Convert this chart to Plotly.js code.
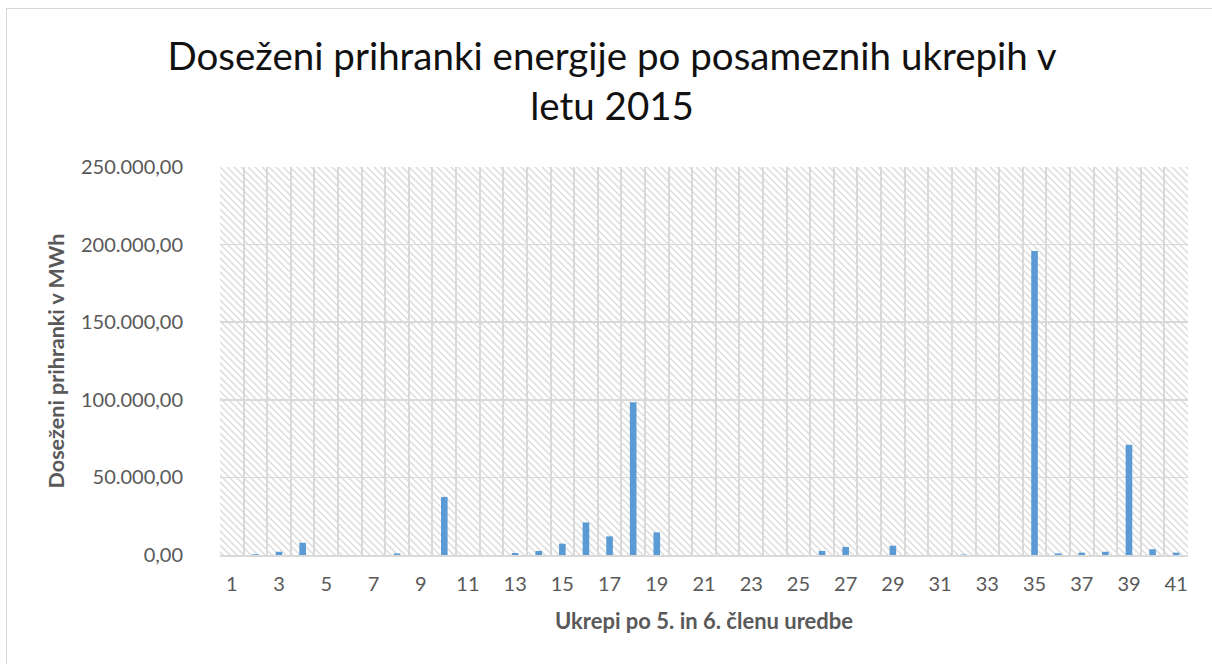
<!DOCTYPE html>
<html><head><meta charset="utf-8">
<script src="https://cdn.plot.ly/plotly-3.0.1.min.js"></script>
<style>
html,body{margin:0;padding:0;background:#fff;overflow:hidden;}
#chart{position:absolute;left:0;top:0;width:1212px;height:664px;}
#frame{position:absolute;left:6px;top:8px;width:1240px;height:700px;border:1.5px solid #d9d9d9;pointer-events:none;z-index:5;}
</style>
</head><body>
<div id="chart"></div><div id="frame"></div>
<script>
const chartTitle = "Doseženi prihranki energije po posameznih ukrepih v<br>letu 2015";
const xTitle = "Ukrepi po 5. in 6. členu uredbe";
const yTitle = "Doseženi prihranki v MWh";
const categories = [1,2,3,4,5,6,7,8,9,10,11,12,13,14,15,16,17,18,19,20,21,22,23,24,25,26,27,28,29,30,31,32,33,34,35,36,37,38,39,40,41];
const savings = [0,500,2100,7900,0,0,0,1000,0,37400,0,0,1300,2600,7300,21000,12000,98500,14600,0,0,0,0,0,0,2600,5200,0,6000,0,0,300,0,0,195800,1000,1500,2100,71000,3700,1500];
const xTickLabels = [1,3,5,7,9,11,13,15,17,19,21,23,25,27,29,31,33,35,37,39,41];
const yTicks = [0,50000,100000,150000,200000,250000];

const W = 968, H = 388, T = 7;
const svg = `<svg xmlns="http://www.w3.org/2000/svg" width="${W}" height="${H}" viewBox="0 0 ${W} ${H}"><defs><pattern id="p" width="${T}" height="${T}" patternUnits="userSpaceOnUse"><path d="M0,0 L${T},${T} M-2,${T-2} L2,${T+2} M${T-2},-2 L${T+2},2" stroke="#dcdcdc" stroke-width="1.5"/></pattern></defs><rect width="${W}" height="${H}" fill="url(#p)"/></svg>`;
const hatch = 'data:image/svg+xml;charset=utf-8,' + encodeURIComponent(svg);

const font = 'Lato, "Open Sans", sans-serif';
const gray = '#595959';

Plotly.newPlot('chart', [{
  type: 'bar',
  x: categories,
  y: savings,
  marker: {color: '#5b9bd5'},
  hoverinfo: 'x+y'
}], {
  width: 1212, height: 664,
  margin: {l: 220, r: 24, t: 167, b: 109},
  paper_bgcolor: '#fff',
  plot_bgcolor: '#fff',
  separators: ',.',
  bargap: 0.72,
  showlegend: false,
  font: {family: font, color: gray},
  title: {
    text: chartTitle,
    font: {family: font, size: 38.5, color: '#111'},
    x: 0.505, xref: 'container', xanchor: 'center',
    y: 1 - 70/664, yref: 'container', yanchor: 'top'
  },
  xaxis: {
    range: [0.5, 41.5],
    tickmode: 'array',
    tickvals: xTickLabels,
    ticktext: xTickLabels.map(String),
    ticks: '',
    showgrid: false,
    zeroline: false,
    showline: true,
    linecolor: '#d9d9d9',
    linewidth: 2,
    tickfont: {family: font, size: 20, color: gray},
    ticklabelstandoff: 10,
    minor: {tick0: 0.5, dtick: 1, showgrid: true, gridcolor: '#d9d9d9', gridwidth: 2, ticks: ''},
    title: {text: xTitle, font: {family: font, size: 22, color: gray, weight: 'bold'}, standoff: 20}
  },
  yaxis: {
    range: [0, 250000],
    tickmode: 'array',
    tickvals: yTicks,
    tickformat: ',.2f',
    ticks: '',
    showgrid: true,
    gridcolor: '#d9d9d9',
    gridwidth: 1.5,
    zeroline: false,
    tickfont: {family: font, size: 20, color: gray},
    ticklabelstandoff: 36,
    title: {text: yTitle, font: {family: font, size: 21.5, color: gray, weight: 'bold'}, standoff: 10}
  },
  images: [{
    source: hatch, xref: 'paper', yref: 'paper', x: 0, y: 1, sizex: 1, sizey: 1,
    xanchor: 'left', yanchor: 'top', sizing: 'stretch', layer: 'below'
  }]
}, {displayModeBar: false, staticPlot: true});
</script>
</body></html>
